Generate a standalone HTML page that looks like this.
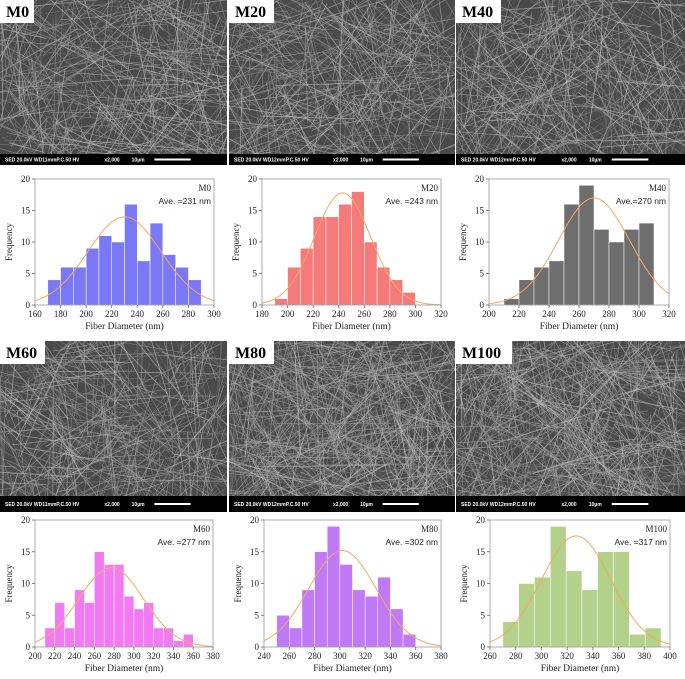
<!DOCTYPE html>
<html><head><meta charset="utf-8"><style>
html,body{margin:0;padding:0;background:#fff;}
svg{display:block;font-family:"Liberation Serif",serif;}
</style></head><body>
<svg id="fig" width="685" height="679" viewBox="0 0 685 679" xmlns="http://www.w3.org/2000/svg"></svg>
<script>
// ---- data ----
const names = ["M0","M20","M40","M60","M80","M100"];
const aveLabels = ["Ave. =231 nm","Ave. =243 nm","Ave.=270 nm","Ave. =277 nm","Ave. =302 nm","Ave. =317 nm"];
const binStarts = [170,190,210,210,250,270];
const binWidths = [10,10,10,10,10,12.3];
const countsM0 = [4,6,6,9,11,10,16,7,13,8,6,4];
const countsM20 = [1,6,9,14,14,16,18,10,6,4,2];
const countsM40 = [1,4,6,7,16,19,12,10,12,13];
const countsM60 = [3,7,3,9,7,15,13,13,8,6,7,3,3,1,2];
const countsM80 = [5,3,9,15,19,13,9,8,11,6,2];
const countsM100 = [4,10,11,19,12,9,15,15,2,3];
const fitMean = [230,243,270,277,302,327];
const fitSigma = [28.6,22,23.6,32.8,26.6,27];
const fitPeak = [14,17.8,17,12.5,15.2,17.5];
const xMins = [160,180,200,200,240,260];
const xMaxs = [300,320,320,380,380,400];
const xTickSteps = [20,20,20,20,20,20];
const yTicks = [0,5,10,15,20];
const colors = ["#7b78f5","#f57a7a","#6e6e6e","#f27af2","#c07af5","#b3d18a"];
const allCounts = [countsM0,countsM20,countsM40,countsM60,countsM80,countsM100];

const NS="http://www.w3.org/2000/svg";
const svg=document.getElementById('fig');
function mk(tag,attrs,parent){const e=document.createElementNS(NS,tag);for(const k in attrs)e.setAttribute(k,attrs[k]);(parent||svg).appendChild(e);return e;}

// ---- SEM images (texture only) ----
let seed=12345;function rnd(){seed=(seed*1103515245+12345)%2147483648;return seed/2147483648;}
const imgBoxes=[[0,0,227,165],[229,0,226,165],[456,0,229,165],[0,341,227,171],[229,341,226,171],[456,341,229,171]];
const infoA=["SED 20.0kV WD11mmP.C.50  HV","SED 20.0kV WD12mmP.C.50  HV","SED 20.0kV WD12mmP.C.50  HV","SED 20.0kV WD11mmP.C.50  HV","SED 20.0kV WD12mmP.C.50  HV","SED 20.0kV WD12mmP.C.50  HV"];
imgBoxes.forEach((b,i)=>{
  const [x,y,w,h]=b;
  const g=mk('g',{});
  
  
  const cid='clip'+i;
  const cp=mk('clipPath',{id:cid},g);mk('rect',{x:x,y:y,width:w,height:h},cp);
  mk('rect',{x:x,y:y,width:w,height:h,fill:'#4a4a4a'},g);
  const lg=mk('g',{'clip-path':'url(#'+cid+')'},g);
  const dense=(i===4||i===5)?700:480;
  for(let k=0;k<dense;k++){
    const cx=x+rnd()*w,cy=y+rnd()*h,a=rnd()*Math.PI,L=10+rnd()*60;
    const c=110+Math.floor(rnd()*90);
    mk('line',{x1:cx-Math.cos(a)*L,y1:cy-Math.sin(a)*L,x2:cx+Math.cos(a)*L,y2:cy+Math.sin(a)*L,stroke:'rgb('+c+','+c+','+c+')','stroke-width':0.4+rnd()*0.5,'stroke-opacity':0.7},lg);
  }
  const bh=i<3?11:16;
  const bar=mk('rect',{x:x,y:y+h-bh,width:w,height:bh,fill:'#000'},g);
  
  
  const t=mk('text',{x:x+5,y:y+h-bh/2+2,fill:'#fff','font-size':5,'font-family':'Liberation Sans, sans-serif','font-weight':'bold'},g);
  t.textContent=infoA[i];
  const t2=mk('text',{x:x+w*0.46,y:y+h-bh/2+2,fill:'#fff','font-size':5,'font-family':'Liberation Sans, sans-serif','font-weight':'bold'},g);
  t2.textContent='x2,000';
  const t3=mk('text',{x:x+w*0.58,y:y+h-bh/2+2,fill:'#fff','font-size':5,'font-family':'Liberation Sans, sans-serif','font-weight':'bold'},g);
  t3.textContent='10µm';
  mk('rect',{x:x+w*0.68,y:y+h-bh/2-1,width:w*0.16,height:2,fill:'#fff'},g);
  const lw=names[i].length*11+12;
  mk('rect',{x:x,y:y,width:lw,height:23,fill:'#fff'},g);
  const lt=mk('text',{x:x+6,y:y+17,'font-size':16,'font-weight':'bold',fill:'#000'},g);
  
  
  lt.textContent=names[i];
});

// ---- histograms ----
const plotX=[[35,214],[262,441],[489,669],[35,213],[264,441],[490,670]];
const plotY=[[179,305],[179,305],[179,305],[520,647],[520,647],[520,647]];
const xlabelY=[329,329,329,671,671,671];
for(let i=0;i<6;i++){
  const g=mk('g',{});
  
  
  const [x0,x1]=plotX[i],[yT,yB]=plotY[i];
  const sx=v=>x0+(v-xMins[i])/(xMaxs[i]-xMins[i])*(x1-x0);
  const sy=v=>yB-(v/20)*(yB-yT);
  const counts=allCounts[i];
  counts.forEach((c,k)=>{
    const a=binStarts[i]+k*binWidths[i];
    const r=mk('rect',{x:sx(a),y:sy(c),width:sx(a+binWidths[i])-sx(a),height:yB-sy(c),fill:colors[i],stroke:'#fff','stroke-width':0.5},g);
    
    
  });
  let d='';
  for(let v=xMins[i];v<=xMaxs[i];v+=1){
    const f=fitPeak[i]*Math.exp(-Math.pow(v-fitMean[i],2)/(2*fitSigma[i]*fitSigma[i]));
    d+=(d?'L':'M')+sx(v).toFixed(1)+','+sy(f).toFixed(1);
  }
  const p=mk('path',{d:d,fill:'none',stroke:'#f5a860','stroke-width':1},g);
  
  
  const fr=mk('rect',{x:x0,y:yT,width:x1-x0,height:yB-yT,fill:'none',stroke:'#999','stroke-width':0.8},g);
  
  
  yTicks.forEach(t=>{
    mk('line',{x1:x0-3,x2:x0,y1:sy(t),y2:sy(t),stroke:'#666','stroke-width':0.8},g);
    const tt=mk('text',{x:x0-5,y:sy(t)+3,'font-size':9,'text-anchor':'end',fill:'#222'},g);
    
    
    tt.textContent=t;
  });
  for(let t=xMins[i];t<=xMaxs[i];t+=xTickSteps[i]){
    mk('line',{x1:sx(t),x2:sx(t),y1:yB,y2:yB+3,stroke:'#666','stroke-width':0.8},g);
    const tt=mk('text',{x:sx(t),y:yB+12,'font-size':9,'text-anchor':'middle',fill:'#222'},g);
    
    
    tt.textContent=t;
  }
  const xl=mk('text',{x:(x0+x1)/2,y:xlabelY[i],'font-size':9.5,'text-anchor':'middle',fill:'#222'},g);
  
  
  xl.textContent='Fiber Diameter (nm)';
  const yl=mk('text',{x:0,y:0,'font-size':9,'text-anchor':'middle',fill:'#222',transform:'translate('+(x0-23)+','+((yT+yB)/2)+') rotate(-90)'},g);
  
  
  yl.textContent='Frequency';
  const n=mk('text',{x:x1-3,y:yT+12,'font-size':9,'text-anchor':'end',fill:'#222'},g);
  
  
  n.textContent=names[i];
  const av=mk('text',{x:x1-3,y:yT+25,'font-size':8.5,'text-anchor':'end',fill:'#222','font-family':'Liberation Sans, sans-serif'},g);
  
  
  av.textContent=aveLabels[i];
}
</script>
</body></html>
